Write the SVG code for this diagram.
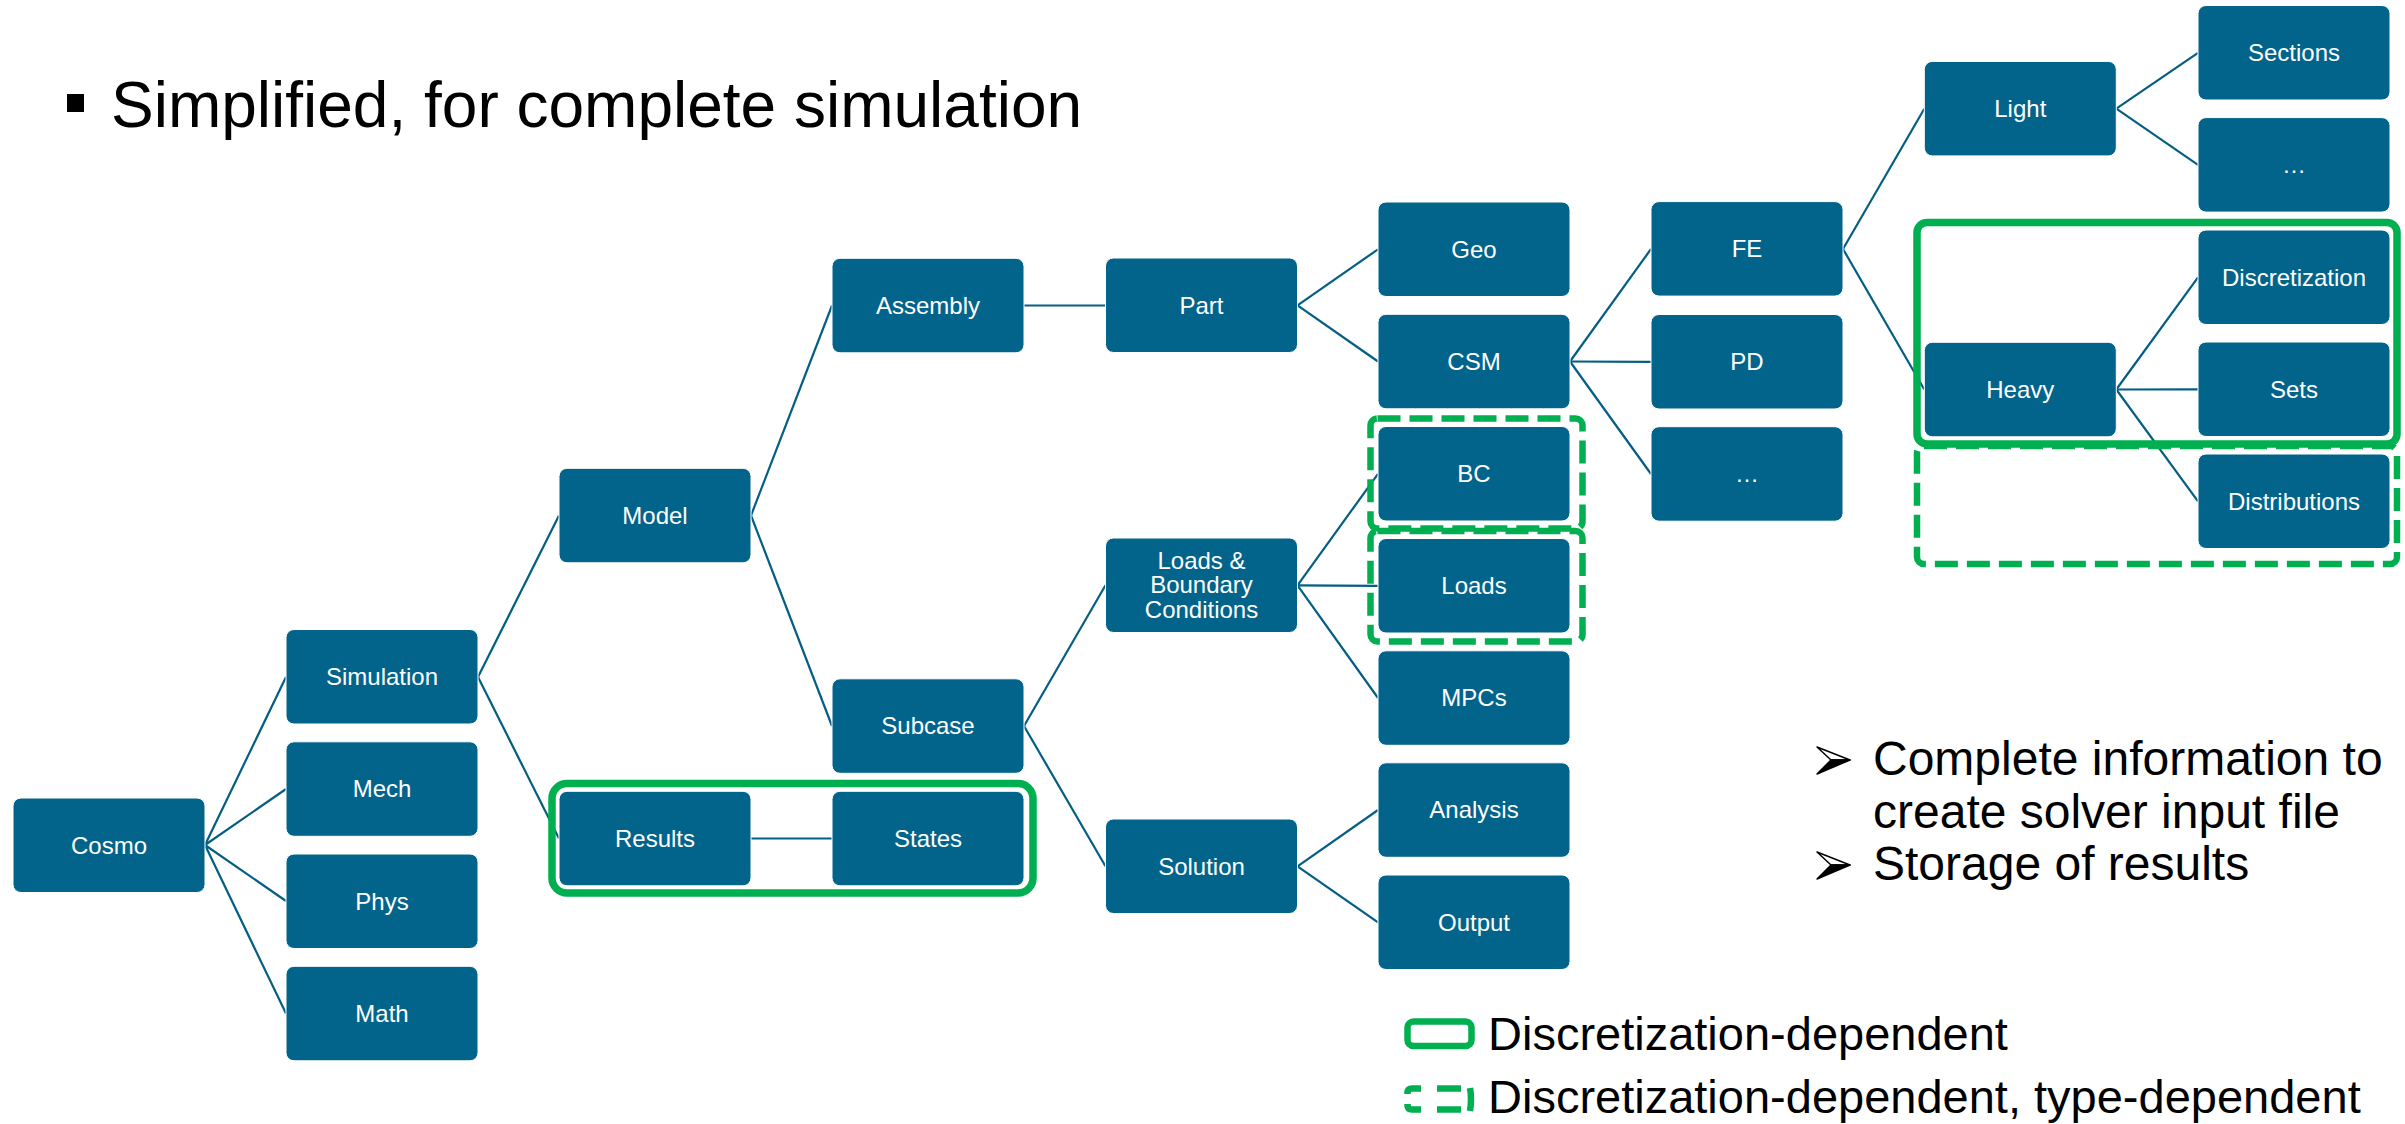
<svg xmlns="http://www.w3.org/2000/svg" width="2405" height="1124" viewBox="0 0 2405 1124">
  <style>
    .node rect { fill: #02648A; stroke: #ffffff; stroke-width: 1; }
    .node text { fill: #ffffff; font-family: "Liberation Sans", Arial, sans-serif; font-size: 24px; text-anchor: middle; }
    .conn line { stroke: #045E84; stroke-width: 2.2; fill: none; }
    .grp { fill: none; stroke: #00B050; stroke-width: 7.5; }
    .grp-dash { fill: none; stroke: #00B050; stroke-width: 6.5; stroke-dasharray: 23 9; }
    .txt { fill: #000000; font-family: "Liberation Sans", Arial, sans-serif; }
  </style>

  <!-- heading -->
  <rect x="67" y="94" width="17" height="18" fill="#000"/>
  <text class="txt" x="111" y="127" font-size="64">Simplified, for complete simulation</text>

  <!-- tree connectors -->
  <g id="connectors" class="conn">
    <line x1="205" y1="845" x2="286" y2="677"/>
    <line x1="205" y1="845" x2="286" y2="789"/>
    <line x1="205" y1="845" x2="286" y2="901"/>
    <line x1="205" y1="845" x2="286" y2="1013.5"/>
    <line x1="478" y1="677" x2="559" y2="515.5"/>
    <line x1="478" y1="677" x2="559" y2="838.5"/>
    <line x1="751" y1="515.5" x2="832" y2="305.5"/>
    <line x1="751" y1="515.5" x2="832" y2="726"/>
    <line x1="1024" y1="305.5" x2="1105.5" y2="305.5"/>
    <line x1="751" y1="838.5" x2="832" y2="838.5"/>
    <line x1="1024" y1="726" x2="1105.5" y2="585.3"/>
    <line x1="1024" y1="726" x2="1105.5" y2="866.3"/>
    <line x1="1297.5" y1="305.3" x2="1378" y2="249.3"/>
    <line x1="1297.5" y1="305.3" x2="1378" y2="361.5"/>
    <line x1="1297.5" y1="585.3" x2="1378" y2="473.8"/>
    <line x1="1297.5" y1="585.3" x2="1378" y2="585.8"/>
    <line x1="1297.5" y1="585.3" x2="1378" y2="698"/>
    <line x1="1297.5" y1="866.3" x2="1378" y2="810"/>
    <line x1="1297.5" y1="866.3" x2="1378" y2="922.3"/>
    <line x1="1570" y1="361.5" x2="1651" y2="249"/>
    <line x1="1570" y1="361.5" x2="1651" y2="361.8"/>
    <line x1="1570" y1="361.5" x2="1651" y2="474"/>
    <line x1="1843" y1="249" x2="1924.3" y2="108.7"/>
    <line x1="1843" y1="249" x2="1924.3" y2="389.5"/>
    <line x1="2116.3" y1="108.7" x2="2198" y2="52.8"/>
    <line x1="2116.3" y1="108.7" x2="2198" y2="164.9"/>
    <line x1="2116.3" y1="389.5" x2="2198" y2="277.3"/>
    <line x1="2116.3" y1="389.5" x2="2198" y2="389.3"/>
    <line x1="2116.3" y1="389.5" x2="2198" y2="501.3"/>
  </g>

  <!-- nodes -->
  <g id="cosmo" class="node"><rect x="13" y="798" width="192" height="94.5" rx="8"/><text x="109" y="853.5">Cosmo</text></g>
  <g id="simulation" class="node"><rect x="286" y="629.5" width="192" height="94.5" rx="8"/><text x="382" y="685">Simulation</text></g>
  <g id="mech" class="node"><rect x="286" y="741.8" width="192" height="94.5" rx="8"/><text x="382" y="797.3">Mech</text></g>
  <g id="phys" class="node"><rect x="286" y="854" width="192" height="94.5" rx="8"/><text x="382" y="909.5">Phys</text></g>
  <g id="math" class="node"><rect x="286" y="966.3" width="192" height="94.5" rx="8"/><text x="382" y="1021.8">Math</text></g>
  <g id="model" class="node"><rect x="559" y="468.3" width="192" height="94.5" rx="8"/><text x="655" y="523.8">Model</text></g>
  <g id="results" class="node"><rect x="559" y="791.3" width="192" height="94.5" rx="8"/><text x="655" y="846.8">Results</text></g>
  <g id="assembly" class="node"><rect x="832" y="258.3" width="192" height="94.5" rx="8"/><text x="928" y="313.8">Assembly</text></g>
  <g id="subcase" class="node"><rect x="832" y="678.8" width="192" height="94.5" rx="8"/><text x="928" y="734.3">Subcase</text></g>
  <g id="states" class="node"><rect x="832" y="791.3" width="192" height="94.5" rx="8"/><text x="928" y="846.8">States</text></g>
  <g id="part" class="node"><rect x="1105.5" y="258" width="192" height="94.5" rx="8"/><text x="1201.5" y="313.5">Part</text></g>
  <g id="loads-bc" class="node"><rect x="1105.5" y="538" width="192" height="94.5" rx="8"/><text x="1201.5" y="568.6">Loads &amp;</text><text x="1201.5" y="593.2">Boundary</text><text x="1201.5" y="617.6">Conditions</text></g>
  <g id="solution" class="node"><rect x="1105.5" y="819" width="192" height="94.5" rx="8"/><text x="1201.5" y="874.5">Solution</text></g>
  <g id="geo" class="node"><rect x="1378" y="202" width="192" height="94.5" rx="8"/><text x="1474" y="257.5">Geo</text></g>
  <g id="csm" class="node"><rect x="1378" y="314.3" width="192" height="94.5" rx="8"/><text x="1474" y="369.8">CSM</text></g>
  <g id="bc" class="node"><rect x="1378" y="426.5" width="192" height="94.5" rx="8"/><text x="1474" y="482">BC</text></g>
  <g id="loads" class="node"><rect x="1378" y="538.5" width="192" height="94.5" rx="8"/><text x="1474" y="594">Loads</text></g>
  <g id="mpcs" class="node"><rect x="1378" y="650.8" width="192" height="94.5" rx="8"/><text x="1474" y="706.3">MPCs</text></g>
  <g id="analysis" class="node"><rect x="1378" y="762.8" width="192" height="94.5" rx="8"/><text x="1474" y="818.3">Analysis</text></g>
  <g id="output" class="node"><rect x="1378" y="875" width="192" height="94.5" rx="8"/><text x="1474" y="930.5">Output</text></g>
  <g id="fe" class="node"><rect x="1651" y="201.6" width="192" height="94.5" rx="8"/><text x="1747" y="257.1">FE</text></g>
  <g id="pd" class="node"><rect x="1651" y="314.5" width="192" height="94.5" rx="8"/><text x="1747" y="370">PD</text></g>
  <g id="csm-more" class="node"><rect x="1651" y="426.7" width="192" height="94.5" rx="8"/><text x="1747" y="482.2">…</text></g>
  <g id="light" class="node"><rect x="1924.3" y="61.4" width="192" height="94.5" rx="8"/><text x="2020.3" y="116.9">Light</text></g>
  <g id="heavy" class="node"><rect x="1924.3" y="342.3" width="192" height="94.5" rx="8"/><text x="2020.3" y="397.8">Heavy</text></g>
  <g id="sections" class="node"><rect x="2198" y="5.5" width="192" height="94.5" rx="8"/><text x="2294" y="61">Sections</text></g>
  <g id="light-more" class="node"><rect x="2198" y="117.6" width="192" height="94.5" rx="8"/><text x="2294" y="173.1">…</text></g>
  <g id="discretization" class="node"><rect x="2198" y="230" width="192" height="94.5" rx="8"/><text x="2294" y="285.5">Discretization</text></g>
  <g id="sets" class="node"><rect x="2198" y="342" width="192" height="94.5" rx="8"/><text x="2294" y="397.5">Sets</text></g>
  <g id="distributions" class="node"><rect x="2198" y="454" width="192" height="94.5" rx="8"/><text x="2294" y="509.5">Distributions</text></g>

  <!-- dependency outlines -->
  <g id="outlines">
    <rect class="grp-dash" x="1370.5" y="418.5" width="212" height="110" rx="7"/>
    <rect class="grp-dash" x="1370.5" y="531" width="212" height="110.5" rx="7"/>
    <rect class="grp-dash" x="1917" y="446" width="480" height="118" rx="7"/>
    <rect class="grp" x="1917" y="222.5" width="480" height="221.5" rx="10"/>
    <rect class="grp" x="552" y="783.5" width="481" height="109.5" rx="15"/>
  </g>

  <!-- notes -->
  <g id="notes">
    <polygon points="1817,747 1850,760 1831,760" fill="#fff" stroke="#000" stroke-width="1.5" stroke-linejoin="round"/>
    <polygon points="1831,760 1850,760 1817,774" fill="#000" stroke="#000" stroke-width="1.5" stroke-linejoin="round"/>
    <text class="txt" x="1873" y="775" font-size="48">Complete information to</text>
    <text class="txt" x="1873" y="828" font-size="48">create solver input file</text>
    <polygon points="1817,852 1850,865 1831,865" fill="#fff" stroke="#000" stroke-width="1.5" stroke-linejoin="round"/>
    <polygon points="1831,865 1850,865 1817,879" fill="#000" stroke="#000" stroke-width="1.5" stroke-linejoin="round"/>
    <text class="txt" x="1873" y="880" font-size="48">Storage of results</text>
  </g>

  <!-- legend -->
  <g id="legend">
    <rect x="1407.5" y="1021.5" width="64" height="24.5" rx="6" fill="none" stroke="#00B050" stroke-width="6.5"/>
    <g fill="none" stroke="#00B050" stroke-width="6.5">
      <path d="M1421,1088.5 H1412 Q1407.5,1088.5 1407.5,1093 V1094"/>
      <path d="M1421,1109.5 H1412 Q1407.5,1109.5 1407.5,1105 V1104"/>
      <line x1="1437" y1="1088.5" x2="1461" y2="1088.5"/>
      <line x1="1437" y1="1109.5" x2="1461" y2="1109.5"/>
      <path d="M1470,1088 Q1472,1099 1470,1111"/>
    </g>
    <text class="txt" x="1488" y="1050" font-size="47">Discretization-dependent</text>
    <text class="txt" x="1488" y="1113" font-size="47">Discretization-dependent, type-dependent</text>
  </g>
</svg>
